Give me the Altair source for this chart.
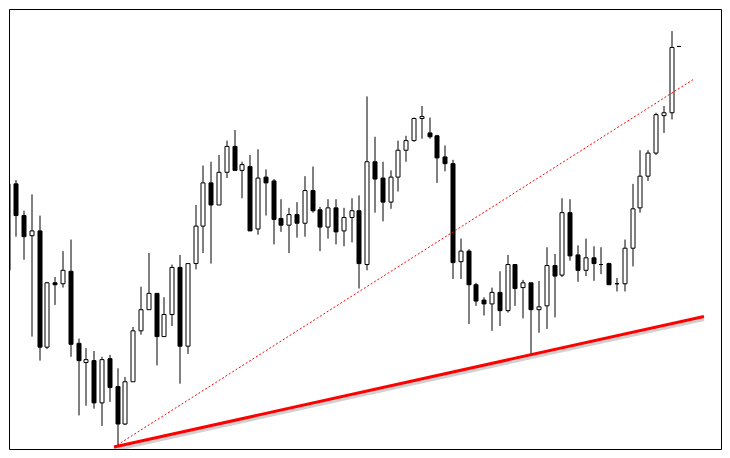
import altair as alt
import pandas as pd

# OHLC values of each bar (price points)
opens = [1276, 1276, 1243, 1222, 1227, 1106, 1173, 1172, 1185, 1110,
         1090, 1092, 1048, 1094, 1065, 1026, 1070, 1123, 1145, 1162,
         1117, 1140, 1189, 1107, 1193, 1232, 1277, 1254, 1288, 1315,
         1290, 1294, 1229, 1283, 1279, 1240, 1233, 1244, 1235, 1269,
         1249, 1231, 1251, 1227, 1241, 1248, 1192, 1299, 1282, 1257,
         1283, 1311, 1321, 1344, 1329, 1326, 1304, 1297, 1195, 1206,
         1171, 1155, 1151, 1163, 1144, 1192, 1168, 1173, 1145, 1149,
         1191, 1181, 1246, 1202, 1186, 1199, 1192, 1193, 1172, 1172,
         1209, 1251, 1284, 1308, 1347, 1350, 1419]
highs = [1278, 1280, 1248, 1265, 1243, 1174, 1179, 1206, 1218, 1115,
         1105, 1102, 1096, 1098, 1084, 1075, 1127, 1169, 1204, 1162,
         1158, 1192, 1202, 1193, 1254, 1295, 1299, 1306, 1321, 1332,
         1299, 1306, 1312, 1291, 1281, 1260, 1251, 1257, 1284, 1294,
         1252, 1260, 1260, 1251, 1261, 1264, 1367, 1325, 1299, 1290,
         1321, 1326, 1345, 1357, 1345, 1327, 1316, 1301, 1219, 1208,
         1173, 1158, 1168, 1185, 1202, 1192, 1176, 1173, 1175, 1210,
         1203, 1261, 1260, 1212, 1219, 1211, 1210, 1194, 1178, 1218,
         1276, 1311, 1311, 1350, 1357, 1435, 1419]
lows = [1184, 1221, 1197, 1117, 1092, 1104, 1150, 1168, 1096, 1035,
        1045, 1042, 1024, 1049, 1002, 1025, 1070, 1119, 1145, 1087,
        1117, 1128, 1068, 1099, 1187, 1204, 1193, 1254, 1282, 1290,
        1261, 1227, 1223, 1243, 1213, 1226, 1204, 1220, 1221, 1246,
        1206, 1219, 1213, 1211, 1215, 1167, 1186, 1246, 1237, 1250,
        1268, 1299, 1320, 1323, 1323, 1277, 1289, 1177, 1177, 1130,
        1149, 1139, 1123, 1128, 1142, 1149, 1136, 1098, 1121, 1125,
        1137, 1179, 1196, 1174, 1180, 1175, 1182, 1171, 1164, 1164,
        1190, 1246, 1279, 1306, 1329, 1343, 1419]
closes = [1186, 1243, 1221, 1227, 1106, 1173, 1171, 1186, 1109, 1092,
          1093, 1048, 1093, 1064, 1026, 1070, 1123, 1145, 1162, 1117,
          1140, 1189, 1107, 1193, 1232, 1277, 1254, 1288, 1315, 1290,
          1296, 1227, 1282, 1277, 1239, 1233, 1244, 1235, 1269, 1248,
          1231, 1251, 1226, 1241, 1248, 1193, 1299, 1281, 1257, 1283,
          1311, 1321, 1344, 1346, 1325, 1303, 1297, 1194, 1206, 1171,
          1154, 1151, 1163, 1144, 1192, 1167, 1173, 1145, 1148, 1191,
          1180, 1246, 1201, 1186, 1199, 1193, 1192, 1171, 1172, 1209,
          1250, 1284, 1308, 1348, 1350, 1418, 1419]
bars = list(range(len(opens)))

# trend lines (bar position, price)
support_bar = [13.6, 89.2]
support_price = [1002, 1138]
channel_bar = [13.6, 87.7]
channel_price = [1002, 1384.5]

df = pd.DataFrame({"bar": bars, "open": opens, "high": highs,
                   "low": lows, "close": closes})
df_sup = pd.DataFrame({"bar": support_bar, "price": support_price})
df_ch = pd.DataFrame({"bar": channel_bar, "price": channel_price})

xs = alt.Scale(domain=[0.0875, 91.3375], nice=False, zero=False, round=True, padding=0)
ys = alt.Scale(domain=[1000, 1458], nice=False, zero=False, padding=0)

X = alt.X("bar:Q", scale=xs, axis=None)

wicks = alt.Chart(df).mark_rule(color="black", strokeWidth=1, clip=True).encode(
    x=X,
    y=alt.Y("low:Q", scale=ys, axis=None),
    y2="high:Q",
)
bodies = alt.Chart(df).mark_bar(size=4, stroke="black", strokeWidth=1, clip=True).encode(
    x=X,
    y=alt.Y("open:Q", scale=ys, axis=None),
    y2="close:Q",
    fill=alt.condition("datum.close >= datum.open", alt.value("white"), alt.value("black")),
)

shadow = alt.Chart(df_sup).mark_line(color="#777777", strokeWidth=3, opacity=0.35,
                                     yOffset=3, clip=True).encode(
    x=X, y=alt.Y("price:Q", scale=ys, axis=None))
support = alt.Chart(df_sup).mark_line(color="#ff0000", strokeWidth=3, clip=True).encode(
    x=X, y=alt.Y("price:Q", scale=ys, axis=None))
channel = alt.Chart(df_ch).mark_line(color="#ff0000", strokeWidth=1, strokeDash=[2, 2],
                                     clip=True).encode(
    x=X, y=alt.Y("price:Q", scale=ys, axis=None))

chart = alt.layer(wicks, bodies, channel, shadow, support).properties(
    width=712, height=440, padding=1, background="white"
).configure_view(stroke="black", strokeWidth=1)

chart.save("out.html", embed_options={"renderer": "svg", "actions": False})
